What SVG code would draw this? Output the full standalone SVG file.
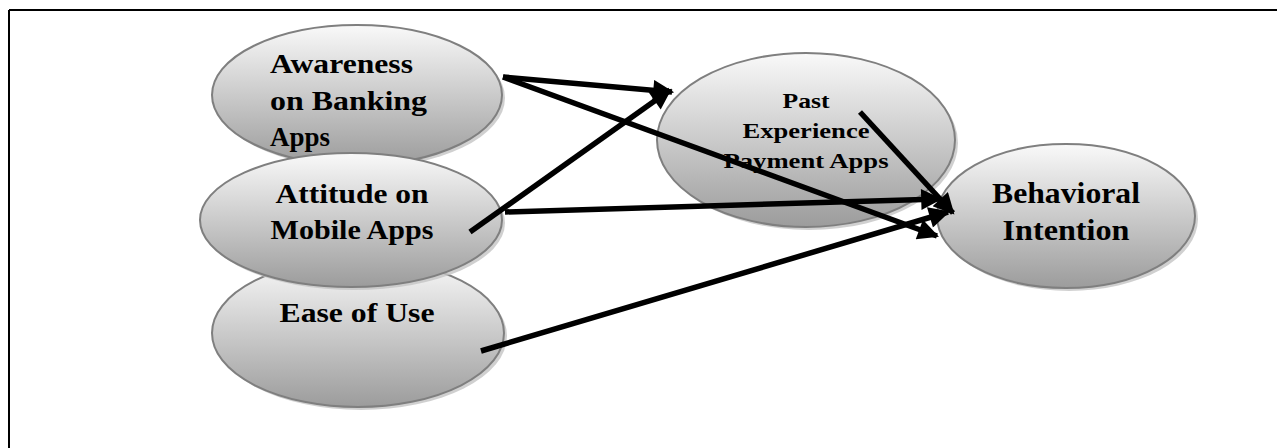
<svg xmlns="http://www.w3.org/2000/svg" width="1277" height="448" viewBox="0 0 1277 448">
<defs>
<linearGradient id="g" x1="0" y1="0" x2="0" y2="1">
<stop offset="0" stop-color="#f9f9f9"/>
<stop offset="1" stop-color="#9c9c9c"/>
</linearGradient>
<marker id="ah" viewBox="0 0 10 10" refX="9" refY="5" markerWidth="4.2" markerHeight="3.8" orient="auto" markerUnits="strokeWidth">
<path d="M0,0 L10,5 L0,10 Z" fill="#000"/>
</marker>
</defs>
<style>
.sh{fill:#c4c4c4;opacity:0.8}
.el{fill:url(#g);stroke:#7f7f7f;stroke-width:2}
.t{font-family:"Liberation Serif","Times New Roman",serif;font-weight:bold;fill:#000}
.c{text-anchor:middle}
.cn line{stroke:#000;stroke-width:5.5;marker-end:url(#ah)}
</style>
<g id="frame">
<line x1="9" y1="10" x2="1277" y2="10" stroke="#000" stroke-width="2"/>
<line x1="9" y1="10" x2="9" y2="448" stroke="#000" stroke-width="2"/>
</g>
<g id="awareness">
<ellipse class="sh" cx="360" cy="98" rx="145" ry="70"/>
<ellipse class="el" cx="357" cy="95" rx="145" ry="70"/>
<text class="t" x="270" y="73" font-size="28" textLength="143" lengthAdjust="spacingAndGlyphs">Awareness</text>
<text class="t" x="270" y="110" font-size="28" textLength="157" lengthAdjust="spacingAndGlyphs">on Banking</text>
<text class="t" x="270" y="146" font-size="28" textLength="60" lengthAdjust="spacingAndGlyphs">Apps</text>
</g>
<g id="ease">
<ellipse class="sh" cx="361" cy="336" rx="146" ry="74"/>
<ellipse class="el" cx="358" cy="333" rx="146" ry="74"/>
<text class="t c" x="357" y="322" font-size="28" textLength="155" lengthAdjust="spacingAndGlyphs">Ease of Use</text>
</g>
<g id="attitude">
<ellipse class="sh" cx="354" cy="223" rx="151" ry="67"/>
<ellipse class="el" cx="351" cy="220" rx="151" ry="67"/>
<text class="t c" x="352" y="203" font-size="28" textLength="153" lengthAdjust="spacingAndGlyphs">Attitude on</text>
<text class="t c" x="352" y="239" font-size="28" textLength="163" lengthAdjust="spacingAndGlyphs">Mobile Apps</text>
</g>
<g id="past">
<ellipse class="sh" cx="809" cy="143" rx="149" ry="87"/>
<ellipse class="el" cx="806" cy="140" rx="149" ry="87"/>
<text class="t c" x="806" y="108" font-size="22" textLength="47" lengthAdjust="spacingAndGlyphs">Past</text>
<text class="t c" x="806" y="138" font-size="22" textLength="127" lengthAdjust="spacingAndGlyphs">Experience</text>
<text class="t c" x="806" y="168" font-size="22" textLength="165" lengthAdjust="spacingAndGlyphs">Payment Apps</text>
</g>
<g id="behavioral">
<ellipse class="sh" cx="1069" cy="219" rx="129" ry="72"/>
<ellipse class="el" cx="1066" cy="216" rx="129" ry="72"/>
<text class="t c" x="1066" y="203" font-size="29" textLength="148" lengthAdjust="spacingAndGlyphs">Behavioral</text>
<text class="t c" x="1066" y="240" font-size="29" textLength="127" lengthAdjust="spacingAndGlyphs">Intention</text>
</g>
<g id="connectors" class="cn">
<line x1="503" y1="77" x2="672" y2="92"/>
<line x1="503" y1="77" x2="937" y2="236"/>
<line x1="470" y1="232" x2="670" y2="90"/>
<line x1="505" y1="212" x2="940" y2="199"/>
<line x1="481" y1="351" x2="948" y2="212"/>
<line x1="860" y1="112" x2="953" y2="213"/>
</g>
</svg>
